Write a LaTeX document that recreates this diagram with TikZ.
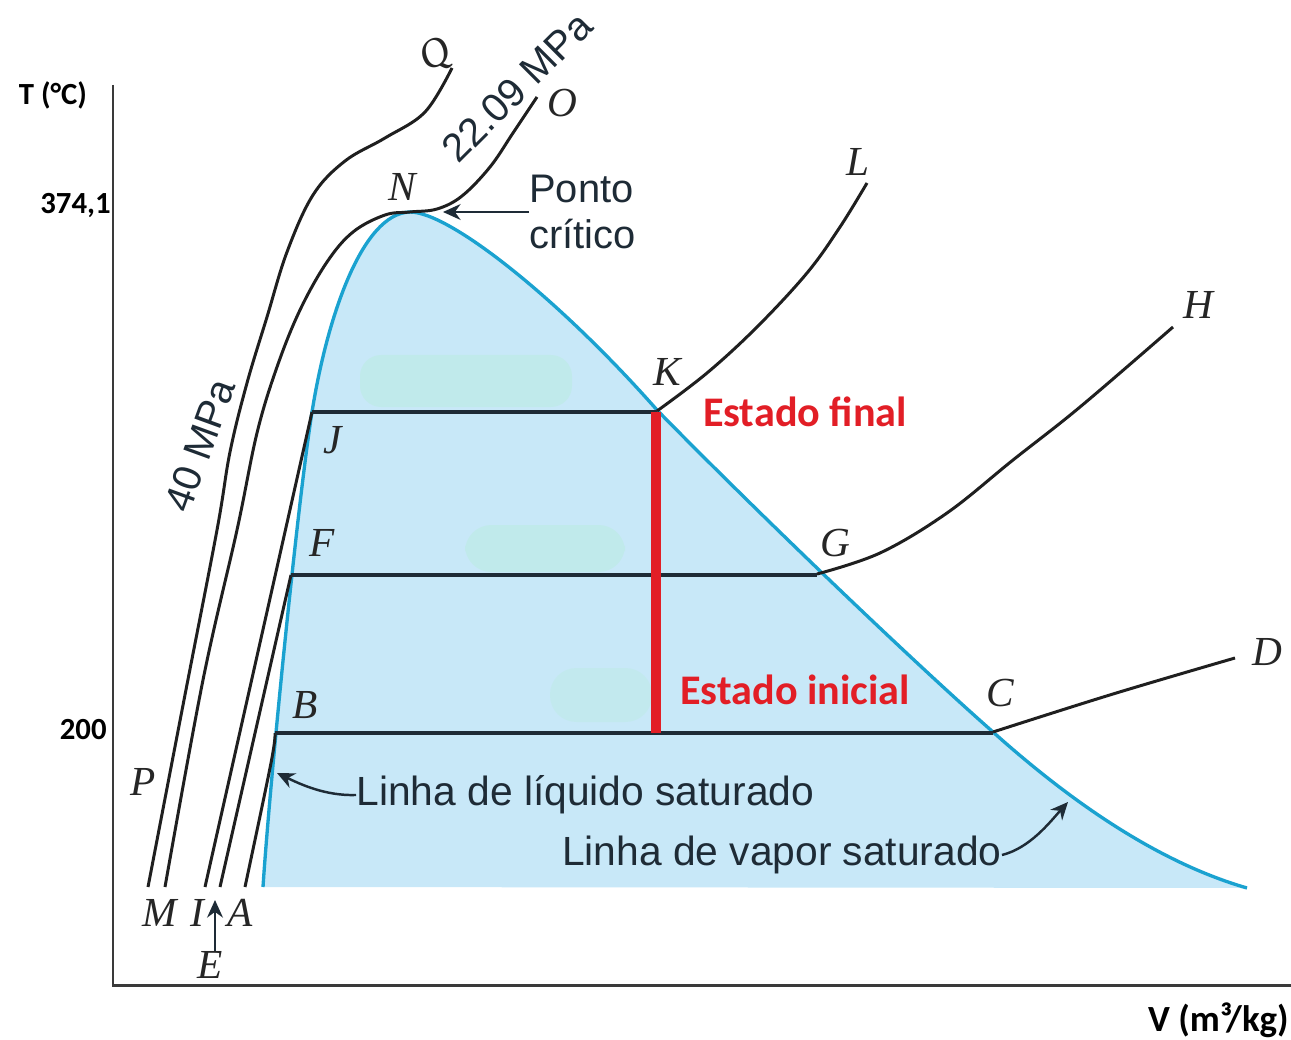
\documentclass[tikz,border=0pt]{standalone}
\usepackage{fontspec}
\setmainfont{Liberation Serif}
\newfontfamily\arialf{Liberation Sans}
\newfontfamily\calf{Carlito}
\usetikzlibrary{arrows.meta}
\definecolor{domefill}{HTML}{C8E8F8}
\definecolor{domeline}{HTML}{1AA2D0}
\definecolor{darkline}{HTML}{1E2B36}
\definecolor{redline}{HTML}{E21E26}
\definecolor{mint}{HTML}{BEEBE6}
\definecolor{axiscol}{HTML}{3A3A3A}
\begin{document}
\begin{tikzpicture}[x=0.02cm,y=-0.02cm,
  isobar/.style={line width=1.7pt, draw=black!88, line join=round},
  satline/.style={line width=2.1pt, draw=darkline},
  dome/.style={line width=1.9pt, draw=domeline},
  axisline/.style={line width=1.7pt, draw=axiscol},
  arrowline/.style={line width=1.4pt, draw=darkline, -{Stealth[length=10pt,width=9pt]}},
  ptlabel/.style={font=\fontsize{23.5}{28}\selectfont\itshape, text=black!85, inner sep=0pt},
  sanslabel/.style={font=\arialf\fontsize{23.2}{26.6}\selectfont, text=darkline, inner sep=0pt},
  redlabel/.style={font=\calf\bfseries\fontsize{24}{28}\selectfont, text=redline, inner sep=0pt},
  axislabel/.style={font=\calf\bfseries\fontsize{17.5}{20}\selectfont, text=black, inner sep=0pt}
]
\useasboundingbox (0,0) rectangle (1291,1040);
\fill[white] (0,0) rectangle (1291,1040);

% dome fill
\fill[domefill] (263,887) .. controls (270,780) and (298,500) .. (312,412)
  .. controls (327,318) and (362,213) .. (410,212)
  .. controls (450,212) and (560,300) .. (657,410)
  .. controls (740,495) and (900,650) .. (993,732)
  .. controls (1060,792) and (1150,860) .. (1247,888) -- cycle;
% faint patches
\fill[mint, opacity=0.7, rounded corners=12] (360,355) rectangle (572,407);
\fill[mint, opacity=0.7, rounded corners=15] (465,525) rectangle (625,572);
\fill[mint, opacity=0.5, rounded corners=15] (550,668) rectangle (652,722);
% dome line
\draw[dome] (263,887) .. controls (270,780) and (298,500) .. (312,412)
  .. controls (327,318) and (362,213) .. (410,212)
  .. controls (450,212) and (560,300) .. (657,410)
  .. controls (740,495) and (900,650) .. (993,732)
  .. controls (1060,792) and (1150,860) .. (1247,888);

% axes
\coordinate (ytop) at (113,85);
\coordinate (orig) at (113,985);
\coordinate (xend) at (1291,985);
\draw[axisline] (ytop) -- (orig) -- (xend);

% state points
\coordinate (Bp) at (275,733);
\coordinate (Cp) at (993,733);
\coordinate (Fp) at (291,575);
\coordinate (Gp) at (817,575);
\coordinate (Jp) at (312,412);
\coordinate (Kp) at (657,412);
\coordinate (Abot) at (245,887);
\coordinate (Ebot) at (220,887);
\coordinate (Ibot) at (205,887);

% isobars
\draw[isobar] plot[smooth, tension=0.6] coordinates {(148,887) (184,700) (217,530) (230,452) (247,383) (267,317) (287,252) (313,195) (345,161) (385,138) (425,112) (452,68)};
\draw[isobar] plot[smooth, tension=0.6] coordinates {(165,887) (203,680) (237,530) (257,433) (277,367) (300,310) (327,262) (353,232) (385,215) (410,212) (437,209) (462,196) (490,167) (513,133) (537,97)};
\draw[isobar] (Ibot) -- (Jp);
\draw[isobar] (Ebot) -- (Fp);
\draw[isobar] plot[smooth, tension=0.6] coordinates {(245,887) (271,763) (275,733)};
\draw[isobar] plot[smooth, tension=0.6] coordinates {(657,411) (707,373) (757,327) (807,273) (840,227) (867,183)};
\draw[isobar] plot[smooth, tension=0.6] coordinates {(817,574) (880,553) (947,513) (1013,460) (1080,407) (1173,327)};
\draw[isobar] plot[smooth, tension=0.6] coordinates {(993,732) (1113,694) (1235,658)};

% saturation lines
\draw[satline] (Jp) -- (Kp);
\draw[satline] (Fp) -- (Gp);
\draw[satline] (Bp) -- (Cp);

% red process line
\coordinate (redtop) at (656,412);
\coordinate (redbot) at (656,733);
\draw[redline, line width=6pt] (redtop) -- (redbot);

% point labels
\node[ptlabel, rotate=30] (Q) at (436,56) {Q};
\node[ptlabel] (O) at (562,103) {O};
\node[ptlabel] (N) at (402,187) {N};
\node[ptlabel] (L) at (858,162) {L};
\node[ptlabel] (K) at (667,372) {K};
\node[ptlabel] (H) at (1198,305) {H};
\node[ptlabel] (J) at (333,440) {J};
\node[ptlabel] (F) at (322,543) {F};
\node[ptlabel] (G) at (835,543) {G};
\node[ptlabel] (B) at (305,705) {B};
\node[ptlabel] (C) at (1000,693) {C};
\node[ptlabel] (D) at (1267,652) {D};
\node[ptlabel] (P) at (143,782) {P};
\node[ptlabel] (M) at (160,913) {M};
\node[ptlabel] (I) at (197,913) {I};
\node[ptlabel] (A) at (240,913) {A};
\node[ptlabel] (E) at (210,965) {E};
\coordinate (etip) at (215,900);
\draw[arrowline] (etip |- E.north) -- (etip);

% pressure labels
\node[sanslabel, font=\arialf\fontsize{22.7}{26}\selectfont, rotate=70] (p40) at (200,445) {40 MPa};
\node[sanslabel, font=\arialf\fontsize{22.7}{26}\selectfont, rotate=45] (p22) at (517,87) {22.09 MPa};

% critical point
\node[sanslabel, font=\arialf\fontsize{22.7}{26.6}\selectfont, anchor=west, align=left] (pc) at (529,212) {Ponto\\crítico};
\coordinate (crit) at (443,212);
\draw[arrowline] (pc.west) -- (crit);

% saturated lines labels
\node[sanslabel, anchor=west] (liq) at (356,795) {Linha de líquido saturado};
\coordinate (liqtip) at (277,773);
\draw[arrowline] (liq.west) .. controls (325,796) and (300,784) .. (liqtip);
\node[sanslabel, anchor=east] (vap) at (1002,855) {Linha de vapor saturado};
\coordinate (vaptip) at (1068,802);
\draw[arrowline] (vap.east) .. controls (1030,848) and (1050,822) .. (vaptip);

% states
\node[redlabel] (fin) at (805,412) {Estado final};
\node[redlabel] (ini) at (795,690) {Estado inicial};

% axis labels
\node[axislabel] (Tlab) at (53,95) {T (°C)};
\node[axislabel, anchor=east] (t374) at (111,205) {374,1};
\node[axislabel, anchor=east] (t200) at (107,730) {200};
\node[axislabel, font=\calf\bfseries\fontsize{21}{24}\selectfont, anchor=east] (Vlab) at (1289,1020) {V (m³/kg)};
\end{tikzpicture}
\end{document}
